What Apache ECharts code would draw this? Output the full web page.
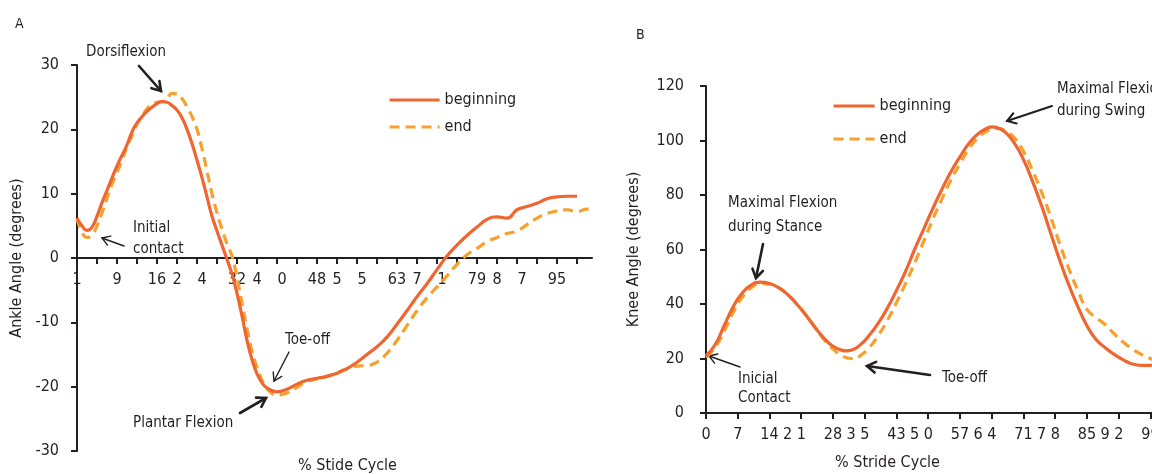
<!DOCTYPE html>
<html>
<head>
<meta charset="utf-8">
<script src="https://cdn.jsdelivr.net/npm/echarts@6/dist/echarts.min.js"></script>
<style>
html,body{margin:0;padding:0;background:#fff;}
#chart{width:1152px;height:474px;}
</style>
</head>
<body>
<div id="chart"></div>
<script>
// ---------- Panel A: ankle ----------
const ankleCount = 104;
const ankleLabelIdx  = [0, 8, 16, 20, 25, 32, 36, 41, 48, 52, 57, 64, 68, 73, 80, 84, 89, 96];
const ankleLabelText = ['1','9','16','2','4','32','4','0','48','5','5','63','7','1','79','8','7','95'];

const ankleBeginX = [0,1,2,3,4,5,6,8,10,11,12,14,16,17,18,19,20,21,22,23,24,25,26,27,28,29,30,31,32,33,34,35,36,37,38,40,42,44,46,48,50,52,54,56,58,60,62,64,66,68,70,72,74,76,78,80,82,84,86,88,90,92,94,96,98,100];
const ankleBegin  = [6.2,5,4.3,4.8,6.5,8.6,10.5,14.3,17.6,19.6,21,22.8,24,24.3,24.2,23.7,23,21.8,20,17.8,15.2,12.5,9.5,6.5,4.2,2,-0.2,-2.5,-5.5,-9,-12.8,-15.8,-18,-19.4,-20.2,-20.8,-20.4,-19.6,-19,-18.7,-18.4,-17.9,-17.2,-16.2,-15,-13.8,-12.3,-10.3,-8.2,-6,-4,-1.8,0.3,2,3.5,4.8,6,6.4,6.2,7.5,8,8.5,9.2,9.5,9.6,9.6];

const ankleEndX = [0,1,2,3,4,5,6,7,8,9,10,11,12,13,14,15,16,17,18,19,20,21,22,23,24,25,26,27,28,29,30,31,32,33,34,35,36,37,38,40,42,44,46,48,50,52,54,56,58,60,62,64,66,68,70,72,74,76,78,80,82,84,86,88,90,92,94,96,98,100,102,103];
const ankleEnd  = [6.2,4,3.2,3.6,5,7,9.3,11.5,13.3,15.2,17.3,19,20.8,22,23.2,23.8,24.2,24.3,24.8,25.6,25.5,24.8,23.5,22,20,17,13.5,10,7,4.5,2.2,0.3,-3,-7,-11,-14.5,-17,-19,-20.3,-21.3,-21,-20.1,-19.2,-18.8,-18.4,-17.8,-17.2,-16.8,-16.7,-16.2,-14.8,-12.8,-10.5,-8.2,-6.2,-4.5,-2.8,-1,0.5,1.5,2.5,3.2,3.8,4.2,5.2,6.2,6.9,7.3,7.5,7.2,7.6,7.5];

// ---------- Panel B: knee ----------
const kneeCount = 100;
const kneeLabelIdx  = [0, 7, 14, 18, 21, 28, 32, 35, 42, 46, 49, 56, 60, 63, 70, 74, 77, 84, 88, 91, 98];
const kneeLabelText = ['0','7','14','2','1','28','3','5','43','5','0','57','6','4','71','7','8','85','9','2','99'];

const kneeBeginX = [0,2,4,6,8,10,12,14,16,18,20,22,24,26,28,30,31,32,34,36,38,40,42,44,46,48,50,52,54,56,58,60,62,63,64,66,68,70,72,74,76,78,80,82,84,86,88,90,92,94,96,98,99];
const kneeBegin  = [21,25,32,39,44,47,48,47.5,46,43.5,40,36,31.5,27.5,24.5,23,22.8,23,25,28.5,33,38.5,45,52,60,67.5,75,82,88.5,94,99,102.5,104.5,105,104.8,103,99,93,85,76,66,56,47,39,32,27,24,21.5,19.5,18,17.5,17.5,18];

const kneeEndX = [0,2,4,6,8,10,12,14,16,18,20,22,24,26,28,30,32,33,34,36,38,40,42,44,46,48,50,52,54,56,58,60,62,64,65,66,68,70,72,74,76,78,80,82,84,86,88,90,92,94,96,98,99];
const kneeEnd  = [20.5,24,30,37,42.5,46,47.5,47.3,46,43.5,40,36,31.5,27,23.5,21,20,20,21,24,28.5,34,40.5,47.5,55,63,71,78.5,85.5,91.5,97,101,103.5,104.5,104.3,103.5,101,96,89,81,72,62,53,45,38,35,32.5,29,26,23.5,21.5,20,19.5];

// ---------- build ----------
const RED = '#EF6630';
const ORANGE = '#F8A02C';
const INK = '#231F20';
const FONT = '"Liberation Sans Narrow", "DejaVu Sans Condensed", "Roboto", sans-serif';

function cats(n, idx, txt) {
  const a = new Array(n).fill('');
  idx.forEach((p, i) => { a[p] = txt[i]; });
  return a;
}
function pairs(xs, ys) { return xs.map((x, i) => [x, ys[i]]); }

function arrow(x1, y1, x2, y2, w, head) {
  const ang = Math.atan2(y2 - y1, x2 - x1);
  const a1 = ang + Math.PI * 0.82, a2 = ang - Math.PI * 0.82;
  return {
    type: 'group',
    children: [
      { type: 'line', shape: { x1, y1, x2, y2 }, style: { stroke: INK, lineWidth: w, lineCap: 'round' } },
      { type: 'polyline', shape: { points: [
          [x2 + head * Math.cos(a1), y2 + head * Math.sin(a1)], [x2, y2],
          [x2 + head * Math.cos(a2), y2 + head * Math.sin(a2)] ] },
        style: { stroke: INK, lineWidth: w, fill: null, lineJoin: 'miter', lineCap: 'round' } }
    ]
  };
}
function txt(x, y, s, size) {
  return { type: 'text', x, y, style: { text: s, font: (size || 15) + 'px ' + FONT, fill: INK, textVerticalAlign: 'middle' } };
}

const axisLine = { lineStyle: { color: INK, width: 2 } };
const tickStyle = { lineStyle: { color: INK, width: 2 }, length: 6 };
const labelStyle = { color: INK, fontSize: 16, fontFamily: FONT };
const nameStyle = { color: INK, fontSize: 16, fontFamily: FONT };
const legendCommon = {
  orient: 'vertical', itemHeight: 14,
  formatter: n => n.replace(/ [AB]$/, ''),
  itemStyle: { opacity: 0 },
  lineStyle: { width: 3.2 },
  textStyle: { color: INK, fontSize: 16, fontFamily: FONT }
};

// ankle grid geometry: zero line sits halfway between -30 and 30
const gA = { left: 77, top: 65, width: 515, height: 386 };

const chart = echarts.init(document.getElementById('chart'), null, { renderer: 'canvas' });
chart.setOption({
  backgroundColor: '#fff',
  animation: false,
  textStyle: { fontFamily: FONT },
  title: [
    { text: 'A', left: 10, top: 12, textStyle: { color: INK, fontSize: 14, fontWeight: 'normal', fontFamily: FONT } },
    { text: 'B', left: 631, top: 23, textStyle: { color: INK, fontSize: 14, fontWeight: 'normal', fontFamily: FONT } }
  ],
  legend: [
    { ...legendCommon, left: 383, top: 87, itemWidth: 50, itemGap: 11, data: ['beginning A', 'end A'] },
    { ...legendCommon, left: 827, top: 93, itemWidth: 41, itemGap: 17, data: ['beginning B', 'end B'] }
  ],
  grid: [
    { ...gA, outerBoundsMode: 'none', containLabel: false },
    { left: 706, top: 86, width: 449, height: 327, outerBoundsMode: 'none', containLabel: false }
  ],
  xAxis: [
    { type: 'category', gridIndex: 0, boundaryGap: false, data: cats(ankleCount, ankleLabelIdx, ankleLabelText),
      position: 'bottom', offset: -gA.height / 2,
      axisLine: { onZero: false, ...axisLine },
      axisTick: { ...tickStyle, interval: i => i % 4 === 0 },
      axisLabel: { ...labelStyle, interval: 0, margin: 14, hideOverlap: false },
      splitLine: { show: false },
      name: '% Stide Cycle', nameLocation: 'middle', nameGap: 200,
      nameTextStyle: { ...nameStyle, padding: [0, 0, 0, 26] } },
    { type: 'category', gridIndex: 1, boundaryGap: false, data: cats(kneeCount, kneeLabelIdx, kneeLabelText),
      axisLine: axisLine,
      axisTick: { ...tickStyle, interval: i => i % 7 === 0 },
      axisLabel: { ...labelStyle, interval: 0, margin: 14, hideOverlap: false },
      splitLine: { show: false },
      name: '% Stride Cycle', nameLocation: 'middle', nameGap: 42,
      nameTextStyle: { ...nameStyle, padding: [0, 86, 0, 0] } }
  ],
  yAxis: [
    { type: 'value', gridIndex: 0, min: -30, max: 30, interval: 10,
      axisLine: { show: true, ...axisLine }, axisTick: { show: true, ...tickStyle },
      axisLabel: { ...labelStyle, margin: 18 }, splitLine: { show: false },
      name: 'Ankle Angle (degrees)', nameLocation: 'middle', nameGap: 52, nameTextStyle: nameStyle },
    { type: 'value', gridIndex: 1, min: 0, max: 120, interval: 20,
      axisLine: { show: true, ...axisLine }, axisTick: { show: true, ...tickStyle },
      axisLabel: { ...labelStyle, margin: 22 }, splitLine: { show: false },
      name: 'Knee Angle (degrees)', nameLocation: 'middle', nameGap: 64, nameTextStyle: nameStyle }
  ],
  series: [
    { name: 'beginning A', type: 'line', xAxisIndex: 0, yAxisIndex: 0, smooth: 0.5, symbol: 'none',
      data: pairs(ankleBeginX, ankleBegin), itemStyle: { color: RED },
      lineStyle: { color: RED, width: 3.2 }, z: 3 },
    { name: 'end A', type: 'line', xAxisIndex: 0, yAxisIndex: 0, smooth: 0.5, symbol: 'none',
      data: pairs(ankleEndX, ankleEnd), itemStyle: { color: ORANGE },
      lineStyle: { color: ORANGE, width: 3.2, type: [10, 6] }, z: 2 },
    { name: 'beginning B', type: 'line', xAxisIndex: 1, yAxisIndex: 1, smooth: 0.5, symbol: 'none',
      data: pairs(kneeBeginX, kneeBegin), itemStyle: { color: RED },
      lineStyle: { color: RED, width: 3.2 }, z: 3 },
    { name: 'end B', type: 'line', xAxisIndex: 1, yAxisIndex: 1, smooth: 0.5, symbol: 'none',
      data: pairs(kneeEndX, kneeEnd), itemStyle: { color: ORANGE },
      lineStyle: { color: ORANGE, width: 3.2, type: [10, 6] }, z: 2 }
  ],
  graphic: [
    // Panel A annotations
    txt(86, 52, 'Dorsiflexion'),
    arrow(139, 66, 161, 91, 2.6, 10),
    txt(133, 228, 'Initial'),
    txt(133, 249, 'contact'),
    arrow(124, 246, 102, 238, 1.4, 9),
    txt(285, 340, 'Toe-off'),
    arrow(289, 352, 274, 381, 1.4, 9),
    txt(133, 423, 'Plantar Flexion'),
    arrow(240, 413, 266, 398, 2.6, 10),
    // Panel B annotations
    txt(1057, 89, 'Maximal Flexion'),
    txt(1057, 111, 'during Swing'),
    arrow(1052, 106, 1007, 121, 2, 10),
    txt(728, 203, 'Maximal Flexion'),
    txt(728, 227, 'during Stance'),
    arrow(763, 244, 756, 278, 2.6, 10),
    txt(738, 379, 'Inicial'),
    txt(738, 398, 'Contact'),
    arrow(740, 367, 709, 356, 1.4, 9),
    txt(942, 378, 'Toe-off'),
    arrow(930, 375, 867, 366, 2.6, 10)
  ]
});
</script>
</body>
</html>
